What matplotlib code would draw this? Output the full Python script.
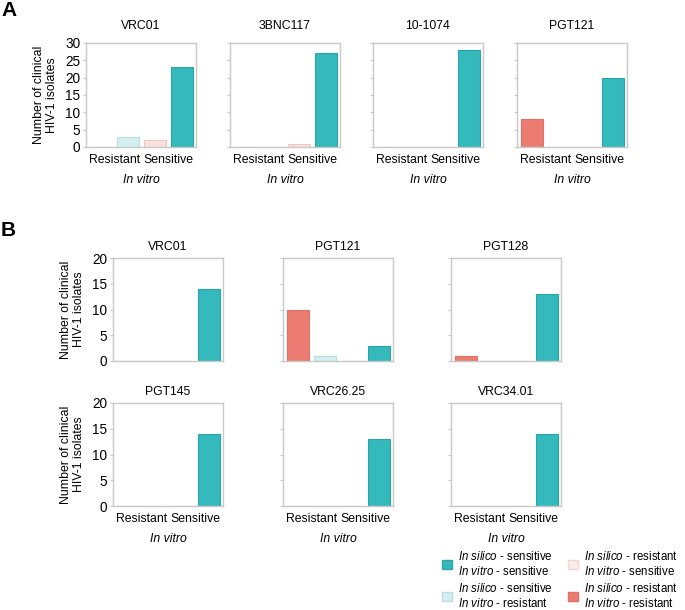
import matplotlib
matplotlib.use("Agg")
import matplotlib.pyplot as plt
from matplotlib.patches import Patch

plt.rcParams['font.family'] = ['Liberation Sans', 'DejaVu Sans']
plt.rcParams['mathtext.fontset'] = 'custom'
plt.rcParams['mathtext.rm'] = 'Liberation Sans'
plt.rcParams['mathtext.it'] = 'Liberation Sans:italic'
FS = 8.8

# bar order inside each panel: rr, sr | rs, ss  (in silico / in vitro)
a_names = ["VRC01", "3BNC117", "10-1074", "PGT121"]
a_rr = [0, 0, 0, 8]
a_sr = [3, 0, 0, 0]
a_rs = [2, 1, 0, 0]
a_ss = [23, 27, 28, 20]

b_names = ["VRC01", "PGT121", "PGT128", "PGT145", "VRC26.25", "VRC34.01"]
b_rr = [0, 10, 1, 0, 0, 0]
b_sr = [0, 1, 0, 0, 0, 0]
b_rs = [0, 0, 0, 0, 0, 0]
b_ss = [14, 3, 13, 14, 13, 14]

groups = ["Resistant", "Sensitive"]

C_SS = "#34b9bd"
C_SR = "#d2eff1"
C_RS = "#fbe1dd"
C_RR = "#ec7b72"
EDGES = ["#e07068", "#b9dde0", "#ecc9c4", "#2aa6aa"]
COLORS = [C_RR, C_SR, C_RS, C_SS]

W, H = 685, 610
fig = plt.figure(figsize=(W / 100, H / 100), dpi=100)


def px_axes(left, top, width, height):
    return fig.add_axes([left / W, 1 - (top + height) / H, width / W, height / H])


def draw_panel(ax, vals, title, ymax, ylabels, xlabels, title_pad):
    xs = [0, 1, 2, 3]
    ax.bar(xs, vals, width=0.82, color=COLORS, edgecolor=EDGES, linewidth=0.8)
    ax.set_xlim(-0.55, 3.52)
    ax.set_ylim(0, ymax)
    ax.set_yticks(range(0, ymax + 1, 5))
    for s in ax.spines.values():
        s.set_color("#c8c8c8")
        s.set_linewidth(1.0)
    ax.tick_params(axis='y', length=2, width=0.8, color="#c8c8c8", labelsize=9.8, pad=2)
    ax.tick_params(axis='x', length=0, labelsize=FS, pad=5)
    if not ylabels:
        ax.set_yticklabels([])
    else:
        ax.set_ylabel("Number of clinical\nHIV-1 isolates", fontsize=FS, labelpad=5, linespacing=1.15)
    if xlabels:
        ax.set_xticks([0.5, 2.5])
        ax.set_xticklabels(groups)
        ax.set_xlabel("In vitro", fontsize=FS, style='italic', labelpad=6)
    else:
        ax.set_xticks([])
    ax.set_title(title, fontsize=FS, pad=title_pad)


# panel A
a_left = [86, 230, 373, 517]
for i, name in enumerate(a_names):
    ax = px_axes(a_left[i], 43, 110, 104)
    vals = [a_rr[i], a_sr[i], a_rs[i], a_ss[i]]
    draw_panel(ax, vals, name, 30, i == 0, True, 10)

# panel B
b_left = [113, 283, 451]
b_top = [258, 403]
for i, name in enumerate(b_names):
    r, c = divmod(i, 3)
    ax = px_axes(b_left[c], b_top[r], 110, 103)
    vals = [b_rr[i], b_sr[i], b_rs[i], b_ss[i]]
    draw_panel(ax, vals, name, 20, c == 0, r == 1, 6)

fig.text(1 / W, 1 - 10 / H, "A", fontsize=15, fontweight='bold', va='center', ha='left')
fig.text(1 / W, 1 - 230 / H, "B", fontsize=15, fontweight='bold', va='center', ha='left')

handles = [
    Patch(facecolor=C_SS, edgecolor=EDGES[3]),
    Patch(facecolor=C_SR, edgecolor=EDGES[1]),
    Patch(facecolor="#fdebe8", edgecolor="#eed6d2"),
    Patch(facecolor=C_RR, edgecolor=EDGES[0]),
]
labels = [
    "$\\mathit{In\\ silico}$ - sensitive\n$\\mathit{In\\ vitro}$ - sensitive",
    "$\\mathit{In\\ silico}$ - sensitive\n$\\mathit{In\\ vitro}$ - resistant",
    "$\\mathit{In\\ silico}$ - resistant\n$\\mathit{In\\ vitro}$ - sensitive",
    "$\\mathit{In\\ silico}$ - resistant\n$\\mathit{In\\ vitro}$ - resistant",
]
fig.legend(handles, labels, ncol=2, loc='upper left', bbox_to_anchor=(442 / W, 1 - 550 / H),
           frameon=False, fontsize=8.3, handlelength=0.85, handleheight=0.85,
           handletextpad=0.55, columnspacing=1.3, labelspacing=0.35,
           borderpad=0, borderaxespad=0)

fig.savefig("out.png", dpi=100)
